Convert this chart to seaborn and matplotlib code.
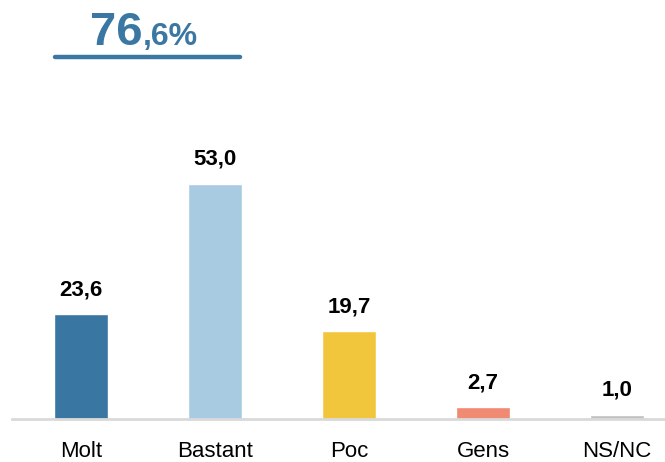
import matplotlib
matplotlib.use("Agg")
import matplotlib.pyplot as plt
import seaborn as sns
import pandas as pd

categories = ["Molt", "Bastant", "Poc", "Gens", "NS/NC"]
values = [23.6, 53.0, 19.7, 2.7, 1.0]
value_labels = ["23,6", "53,0", "19,7", "2,7", "1,0"]
colors = ["#3a76a2", "#a8cbe2", "#f2c63c", "#f08a72", "#c0c0c0"]
headline_big = "76"
headline_small = ",6%"

sns.set_theme(style="white")
plt.rcParams["font.family"] = ["Liberation Sans", "DejaVu Sans"]

df = pd.DataFrame({"cat": categories, "val": values})

fig = plt.figure(figsize=(6.65, 4.62), dpi=100)
ax = fig.add_axes([12 / 665, 43 / 462, 1 - 12 / 665, 419 / 462])
sns.barplot(data=df, x="cat", y="val", hue="cat", palette=colors, order=categories,
            hue_order=categories, width=0.403, legend=False, ax=ax, saturation=1)

ax.set_xlim(-0.515, 4.358)
ax.set_ylim(0, 94.3)
for s in ["top", "right", "left"]:
    ax.spines[s].set_visible(False)
ax.spines["bottom"].set_color("#d9d9d9")
ax.spines["bottom"].set_linewidth(2)
ax.set_yticks([])
ax.set_xlabel("")
ax.set_ylabel("")
ax.tick_params(axis="x", length=0, pad=16, labelsize=16, colors="black")

for i, (v, lab) in enumerate(zip(values, value_labels)):
    ax.annotate(lab, (i, v), xytext=(0, 10), textcoords="offset points",
                ha="center", va="bottom", fontsize=16, fontweight="bold", color="black")

blue = "#3a77a3"
fig.text(143 / 665, 1 - 45 / 462, headline_big, ha="right", va="baseline",
         fontsize=34, fontweight="bold", color=blue)
fig.text(143 / 665, 1 - 45 / 462, headline_small, ha="left", va="baseline",
         fontsize=23, fontweight="bold", color=blue)
fig.add_artist(plt.Line2D([55 / 665, 240 / 665], [1 - 57 / 462, 1 - 57 / 462],
                          color=blue, linewidth=3.2, transform=fig.transFigure))

fig.savefig("out.png", dpi=100)
